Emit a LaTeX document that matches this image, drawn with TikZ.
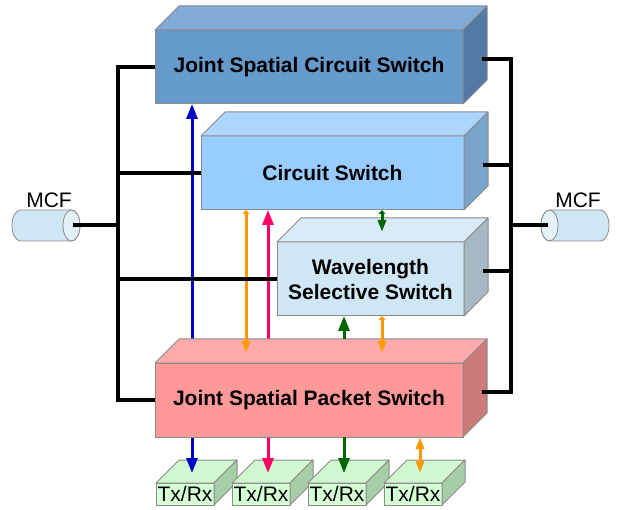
\documentclass[tikz,border=0pt]{standalone}
\usepackage{fontspec}
\setmainfont{Liberation Sans}
\usetikzlibrary{calc,arrows.meta}

\definecolor{edgegray}{HTML}{8A8A8A}
\definecolor{jscsFront}{HTML}{6699CC}
\definecolor{jscsTop}{HTML}{82AAD6}
\definecolor{jscsSide}{HTML}{5279A3}
\definecolor{csFront}{HTML}{99CCFF}
\definecolor{csTop}{HTML}{ADD6FF}
\definecolor{csSide}{HTML}{7AA3CC}
\definecolor{wssFront}{HTML}{CFE6F5}
\definecolor{wssTop}{HTML}{DAEBF7}
\definecolor{wssSide}{HTML}{A6B8C4}
\definecolor{jspsFront}{HTML}{FF9999}
\definecolor{jspsTop}{HTML}{FFAAAA}
\definecolor{jspsSide}{HTML}{CC7A7A}
\definecolor{trxFront}{HTML}{D5FFD5}
\definecolor{trxTop}{HTML}{D0F7D0}
\definecolor{trxSide}{HTML}{A6CDA6}
\definecolor{mcfBody}{HTML}{CFE6F5}
\definecolor{mcfEnd}{HTML}{E4F1F9}
\definecolor{jsBlue}{HTML}{0000CC}
\definecolor{jsPink}{HTML}{FF0066}
\definecolor{jsOrange}{HTML}{FF9900}
\definecolor{jsGreen}{HTML}{006600}

\tikzset{
  front/.style={draw=edgegray, line width=1pt, inner sep=0pt, outer sep=0pt,
    minimum height=74pt, align=center, font=\bfseries\fontsize{21}{25}\selectfont},
  trx/.style={draw=edgegray, line width=1pt, fill=trxFront, inner sep=0pt, outer sep=0pt,
    minimum width=58pt, minimum height=22pt},
  face/.style={draw=edgegray, line width=1pt, line join=round},
  mcf/.style={inner sep=0pt, outer sep=0pt, minimum width=68pt, minimum height=31pt,
    label={[label distance=-1pt, xshift=3pt]above:MCF}},
  rim/.style={x radius=8.5pt, y radius=15.5pt},
  bus/.style={line width=4pt},
  flow/.style={line width=3pt},
  bigtip/.tip={Triangle[width=11pt,length=15pt]},
  midtip/.tip={Triangle[width=8pt,length=12pt]},
  stubtip/.tip={Triangle[width=7pt,length=4pt]}
}

% top and side faces of a box drawn behind a front node
\newcommand{\boxdepth}[4]{%
  \draw[face, fill=#3] (#1.north west) -- ++(#2,-#2) -- ($(#1.north east)+(#2,-#2)$) -- (#1.north east) -- cycle;
  \draw[face, fill=#4] (#1.north east) -- ++(#2,-#2) -- ($(#1.south east)+(#2,-#2)$) -- (#1.south east) -- cycle;
}

\begin{document}
\begin{tikzpicture}[x=1pt, y=-1pt, font=\fontsize{21}{25}\selectfont]
    \useasboundingbox (0,0) rectangle (618,510);
    \coordinate (lbus) at (118,0);
    \coordinate (rbus) at (511,0);
    \coordinate (colA) at (246,0);
    \coordinate (colB) at (382,0);

    % --- Switch stack ---
    \node[front, fill=jscsFront, minimum width=308pt] (jscs) at (309,67) {Joint Spatial Circuit Switch};
    \boxdepth{jscs}{24}{jscsTop}{jscsSide}
    \node[front, fill=csFront, minimum width=263pt] (cs) at (332.5,173) {Circuit Switch};
    \boxdepth{cs}{24}{csTop}{csSide}
    \node[front, fill=wssFront, minimum width=187pt] (wss) at (370.5,279) {Wavelength\\Selective Switch};
    \boxdepth{wss}{24}{wssTop}{wssSide}

    % --- Tx/Rx modules ---
    \foreach \i/\x in {1/185,2/261,3/337,4/413} {
        \node[trx] (trx\i) at (\x,494) {Tx/Rx};
        \boxdepth{trx\i}{23}{trxTop}{trxSide}
        \coordinate (trx\i-in) at ($(trx\i.north)+(7,-10)$);
    }

    % Long links (pass behind the packet switch)
    \draw[flow, jsBlue, bigtip-bigtip] (trx1-in) -- (trx1-in |- jscs.south);
    \draw[flow, jsPink, bigtip-bigtip] (trx2-in) -- (trx2-in |- cs.south);

    \node[front, fill=jspsFront, minimum width=308pt] (jsps) at (309,400) {Joint Spatial Packet Switch};
    \boxdepth{jsps}{24}{jspsTop}{jspsSide}
    \coordinate (jsps-back) at ($(jsps.north)+(0,-24)$);
    \coordinate (jsps-top) at ($(jsps.north)+(0,-10)$);

    % Short links between switches
    \draw[flow, jsOrange, stubtip-midtip] (colA |- cs.south) -- (colA |- jsps-top);
    \draw[flow, jsGreen, stubtip-midtip] (colB |- cs.south) -- ($(colB |- wss.north)+(0,-10)$);
    \draw[flow, jsGreen, -bigtip] (trx3-in |- jsps-back) -- (trx3-in |- wss.south);
    \draw[flow, jsOrange, stubtip-midtip] (colB |- wss.south) -- (colB |- jsps-top);

    % Links down to Tx/Rx
    \draw[flow, jsGreen, -bigtip] (trx3-in |- jsps.south) -- (trx3-in);
    \draw[flow, jsOrange, midtip-midtip] (trx4-in |- jsps.south) -- (trx4-in);

    % --- Multi-core fibres ---
    \node[mcf] (mcfl) at (46,225.5) {};
    \draw[face, line width=0.8pt, fill=mcfBody] ($(mcfl.north east)+(-8.5,0)$) -- ($(mcfl.north west)+(8.5,0)$)
        arc[rim, start angle=90, end angle=270] -- ($(mcfl.south east)+(-8.5,0)$)
        arc[rim, start angle=-90, end angle=90] -- cycle;
    \draw[face, line width=0.8pt, fill=mcfEnd] ($(mcfl.east)+(-8.5,0)$) ellipse[rim];

    \node[mcf] (mcfr) at (575,225.5) {};
    \draw[face, line width=0.8pt, fill=mcfBody] ($(mcfr.north west)+(8.5,0)$) -- ($(mcfr.north east)+(-8.5,0)$)
        arc[rim, start angle=90, end angle=-90] -- ($(mcfr.south west)+(8.5,0)$)
        arc[rim, start angle=270, end angle=90] -- cycle;
    \draw[face, line width=0.8pt, fill=mcfEnd] ($(mcfr.west)+(8.5,0)$) ellipse[rim];

    % Fibre buses
    \draw[bus] (jscs.west) -- (jscs.west -| lbus) -- (jsps.west -| lbus) -- (jsps.west);
    \foreach \n in {cs,wss}
        \draw[bus] (\n.west) -- (\n.west -| lbus);
    \draw[bus] ([xshift=-7pt]mcfl.east) -- (mcfl.east -| lbus);
    \foreach \n in {jscs,cs,wss,jsps}
        \coordinate (\n-r) at ($(\n.east)+(19,-8)$);
    \draw[bus] (jscs-r) -- (jscs-r -| rbus) -- (jsps-r -| rbus) -- (jsps-r);
    \foreach \n in {cs,wss}
        \draw[bus] (\n-r) -- (\n-r -| rbus);
    \draw[bus] ([xshift=7pt]mcfr.west) -- (mcfr.west -| rbus);
\end{tikzpicture}
\end{document}
